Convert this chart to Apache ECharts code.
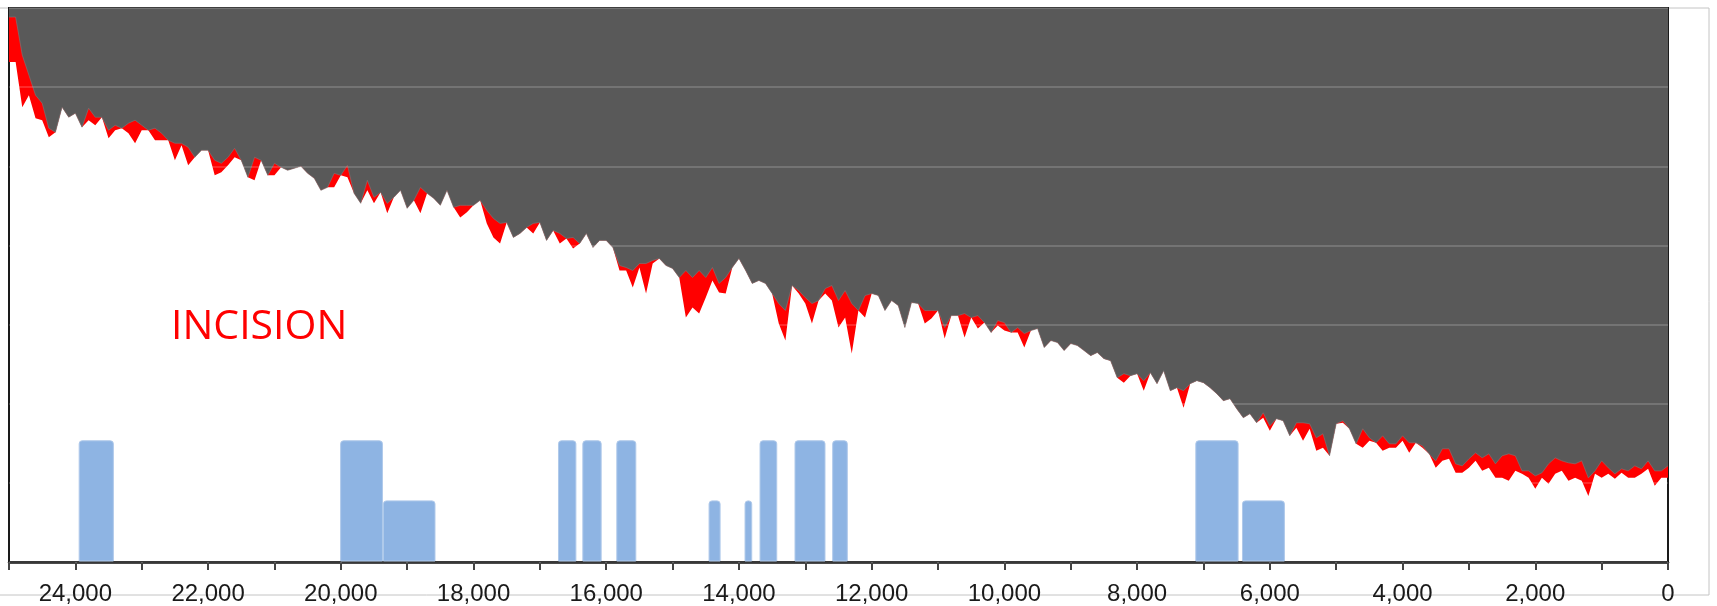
<!DOCTYPE html>
<html>
<head>
<meta charset="utf-8">
<script src="https://cdn.jsdelivr.net/npm/echarts@6/dist/echarts.min.js"></script>
<style>
html,body{margin:0;padding:0;background:#fff;}
#chart{width:1717px;height:606px;}
</style>
</head>
<body>
<div id="chart"></div>
<script>
// Years before present (x axis, reversed)
var years = [
25000,24900,24800,24700,24600,24500,24400,24300,24200,24100,
24000,23900,23800,23700,23600,23500,23400,23300,23200,23100,
23000,22900,22800,22700,22600,22500,22400,22300,22200,22100,
22000,21900,21800,21700,21600,21500,21400,21300,21200,21100,
21000,20900,20800,20700,20600,20500,20400,20300,20200,20100,
20000,19900,19800,19700,19600,19500,19400,19300,19200,19100,
19000,18900,18800,18700,18600,18500,18400,18300,18200,18100,
18000,17900,17800,17700,17600,17500,17400,17300,17200,17100,
17000,16900,16800,16700,16600,16500,16400,16300,16200,16100,
16000,15900,15800,15700,15600,15500,15400,15300,15200,15100,
15000,14900,14800,14700,14600,14500,14400,14300,14200,14100,
14000,13900,13800,13700,13600,13500,13400,13300,13200,13100,
13000,12900,12800,12700,12600,12500,12400,12300,12200,12100,
12000,11900,11800,11700,11600,11500,11400,11300,11200,11100,
11000,10900,10800,10700,10600,10500,10400,10300,10200,10100,
10000,9900,9800,9700,9600,9500,9400,9300,9200,9100,
9000,8900,8800,8700,8600,8500,8400,8300,8200,8100,
8000,7900,7800,7700,7600,7500,7400,7300,7200,7100,
7000,6900,6800,6700,6600,6500,6400,6300,6200,6100,
6000,5900,5800,5700,5600,5500,5400,5300,5200,5100,
5000,4900,4800,4700,4600,4500,4400,4300,4200,4100,
4000,3900,3800,3700,3600,3500,3400,3300,3200,3100,
3000,2900,2800,2700,2600,2500,2400,2300,2200,2100,
2000,1900,1800,1700,1600,1500,1400,1300,1200,1100,
1000,900,800,700,600,500,400,300,200,100,
0
];

// Upper surface (boundary with the dark area)
var topLine = [
544,544,506,486,466,458,433,429,454,444,
448,434,453,444,444,431,436,433,438,441,
436,431,433,428,421,418,418,414,404,411,
411,401,398,404,413,401,384,404,401,386,
398,394,391,393,395,388,383,371,374,388,
386,396,368,358,381,364,369,358,364,371,
353,361,374,368,363,356,371,354,356,356,
356,361,351,343,338,339,324,328,334,338,
339,321,331,328,323,324,318,328,314,321,
321,314,296,294,291,298,298,301,303,296,
293,284,291,284,291,284,294,278,284,294,
303,291,278,281,278,268,258,251,276,271,
264,258,261,273,276,261,271,258,251,266,
268,266,251,261,256,234,259,258,251,251,
251,234,246,246,248,244,246,239,229,241,
239,229,234,228,231,233,214,221,219,211,
218,216,211,206,209,203,201,184,188,186,
188,181,189,178,191,171,174,171,178,181,
179,174,168,161,163,153,144,148,139,149,
136,143,141,126,139,139,138,124,128,106,
138,141,133,118,133,124,119,126,118,118,
126,119,119,116,108,101,113,113,98,96,
103,109,104,108,98,106,108,106,91,91,
86,89,98,104,101,99,98,101,84,91,
101,94,88,93,91,96,93,101,91,91,
96
];

// Incised surface (lower boundary of the red band)
var incisedLine = [
499,499,454,466,443,441,424,429,454,444,
448,434,441,436,444,423,431,433,428,418,
431,431,421,421,421,401,416,396,404,411,
411,386,389,396,404,401,384,381,401,386,
386,394,391,393,395,388,383,371,374,374,
386,384,368,358,371,358,369,348,364,371,
353,361,348,368,363,356,371,354,344,349,
356,361,338,324,318,339,324,328,334,328,
339,321,331,318,323,313,318,328,314,321,
321,314,291,291,274,294,268,298,303,296,
293,284,244,254,248,264,281,269,268,294,
303,291,278,281,278,268,238,221,276,268,
258,238,261,268,261,234,244,208,251,244,
268,266,251,261,256,234,259,258,238,243,
251,223,246,246,224,244,233,239,229,236,
231,229,229,214,231,233,214,221,219,211,
218,216,211,206,209,203,201,184,179,186,
188,171,189,178,191,171,174,154,178,181,
179,174,168,161,163,153,144,148,139,144,
131,143,141,126,134,121,133,111,114,106,
138,139,133,118,114,121,119,111,114,114,
121,109,119,114,108,94,101,103,89,89,
94,101,91,94,84,84,81,91,88,84,
73,84,78,88,91,81,84,81,66,88,
84,88,83,89,84,84,88,93,76,84,
84
];

// Blue period bars: start year, end year, level
var barStart = [23950, 20010, 19365, 16727, 16360, 15848, 14458, 13916, 13690, 13163, 12595, 7123, 6420];
var barEnd   = [23420, 19365, 18573, 16450, 16069, 15547, 14277, 13800, 13423, 12696, 12360, 6471, 5773];
var barLevel = [121, 121, 61, 121, 121, 121, 61, 61, 121, 121, 121, 121, 61];

var annotationText = 'INCISION';

var topData = years.map(function (y, i) { return [y, topLine[i]]; });
var incData = years.map(function (y, i) { return [y, incisedLine[i]]; });
var barData = barStart.map(function (s, i) { return [s, barEnd[i], barLevel[i]]; });

function fmt(v) {
  if (v % 2000 !== 0) return '';
  return String(v).replace(/\B(?=(\d{3})+(?!\d))/g, ',');
}

var chart = echarts.init(document.getElementById('chart'), null, {renderer: 'canvas'});
chart.setOption({
  animation: false,
  backgroundColor: '#ffffff',
  grid: {
    left: 9, right: 49, top: 8, bottom: 44,
    show: true, borderColor: '#1a1a1a', borderWidth: 2,
    backgroundColor: 'transparent'
  },
  xAxis: [{
    type: 'value', min: 0, max: 25000, interval: 1000, inverse: true,
    position: 'bottom',
    axisLine: {show: true, lineStyle: {color: '#111', width: 2.5}},
    axisTick: {show: true, inside: false, length: 8, lineStyle: {color: '#444', width: 2}},
    axisLabel: {
      show: true, formatter: fmt, fontSize: 24, color: '#1a1a1a',
      fontFamily: 'Liberation Sans, Arial, sans-serif', margin: 20
    },
    splitLine: {show: false}
  }, {
    type: 'value', min: 0, max: 25000, interval: 1000, inverse: true,
    position: 'top', offset: -554,
    axisLine: {show: false},
    axisTick: {show: true, inside: true, length: 8, lineStyle: {color: '#444', width: 2}},
    axisLabel: {show: false},
    splitLine: {show: false}
  }],
  yAxis: {
    type: 'value', min: 0, max: 553, interval: 79, z: 10,
    axisLine: {show: false}, axisTick: {show: false}, axisLabel: {show: false},
    splitLine: {show: true, lineStyle: {color: 'rgba(255,255,255,0.22)', width: 1.5}}
  },
  graphic: [{
    type: 'rect', z: -10, silent: true,
    shape: {x: -2, y: 8, width: 1711, height: 587},
    style: {fill: 'none', stroke: '#c4c4c4', lineWidth: 1}
  }, {
    type: 'text', left: 171, top: 307, z: 20,
    style: {text: annotationText, fill: '#ff0000', fontSize: 41, fontFamily: 'Open Sans, Noto Sans, sans-serif'}
  }],
  series: [{
    name: 'Incised', type: 'line', xAxisIndex: 0, data: incData,
    showSymbol: false, symbol: 'none', z: 2,
    lineStyle: {width: 0},
    areaStyle: {color: '#ff0000', opacity: 1, origin: 'end'}
  }, {
    name: 'Surface', type: 'line', xAxisIndex: 0, data: topData,
    showSymbol: false, symbol: 'none', z: 3,
    lineStyle: {width: 0.6, color: '#7a7a7a'},
    areaStyle: {color: '#595959', opacity: 1, origin: 'end'}
  }, {
    name: 'Periods', type: 'custom', xAxisIndex: 0, data: barData, z: 15,
    encode: {x: [0, 1], y: 2},
    renderItem: function (params, api) {
      var s = api.value(0), e = api.value(1), h = api.value(2);
      var p0 = api.coord([s, h]);
      var p1 = api.coord([e, 0]);
      return {
        type: 'rect',
        shape: {x: p0[0] + 0.5, y: p0[1], width: p1[0] - p0[0] - 1, height: p1[1] - p0[1] - 1, r: [3, 3, 0, 0]},
        style: {fill: '#8EB4E3', stroke: '#AFC9EA', lineWidth: 1}
      };
    }
  }]
});
</script>
</body>
</html>
